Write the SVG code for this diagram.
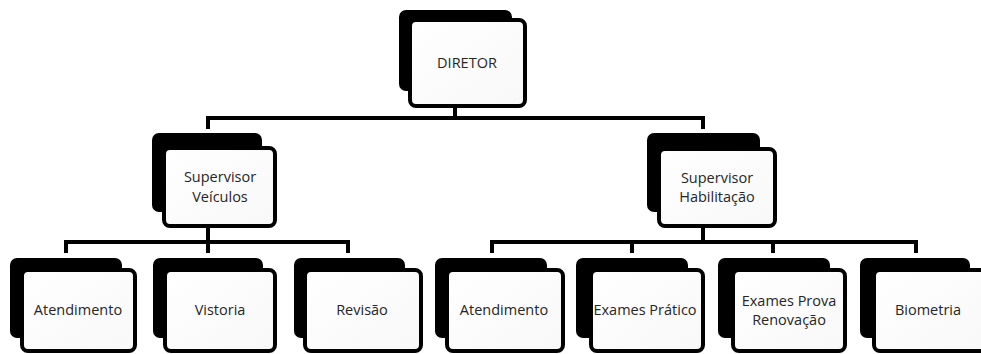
<svg xmlns="http://www.w3.org/2000/svg" width="981" height="354" viewBox="0 0 981 354">
  <defs>
    <linearGradient id="fillg" x1="0" y1="0" x2="1" y2="1">
      <stop offset="0" stop-color="#ffffff"/>
      <stop offset="1" stop-color="#f8f8f8"/>
    </linearGradient>
  </defs>
  <style>
    .shadow { fill: #000; }
    .front { fill: url(#fillg); stroke: #000; stroke-width: 4; }
    .lbl { font-family: "Open Sans", "DejaVu Sans", sans-serif; font-size: 14.5px; fill: #262626; text-anchor: middle; }
    .conn { fill: none; stroke: #000; stroke-width: 4; stroke-linejoin: miter; }
  </style>
  <rect width="981" height="354" fill="#fff"/>

  <g id="connectors">
    <path class="conn" d="M455 106 V118"/>
    <path class="conn" d="M208 129 V118 H703 V129"/>
    <path class="conn" d="M208 226 V253"/>
    <path class="conn" d="M66 253 V242 H348 V253"/>
    <path class="conn" d="M703 226 V242"/>
    <path class="conn" d="M492 253 V242 H916 V253"/>
    <path class="conn" d="M632 242 V253"/>
    <path class="conn" d="M773 242 V253"/>
  </g>

  <g id="diretor">
    <rect class="shadow" x="399" y="10" width="113" height="81" rx="7"/>
    <rect class="front" x="410" y="20" width="115" height="86" rx="6"/>
    <text class="lbl" x="467" y="68">DIRETOR</text>
  </g>

  <g id="sup-veiculos">
    <rect class="shadow" x="152" y="133" width="110" height="79" rx="7"/>
    <rect class="front" x="164" y="148" width="111" height="78" rx="6"/>
    <text class="lbl" x="220" y="182">Supervisor</text>
    <text class="lbl" x="220" y="202">Veículos</text>
  </g>

  <g id="sup-habilitacao">
    <rect class="shadow" x="647" y="133" width="113" height="79" rx="7"/>
    <rect class="front" x="659" y="149" width="116" height="77" rx="6"/>
    <text class="lbl" x="717" y="183">Supervisor</text>
    <text class="lbl" x="717" y="202">Habilitação</text>
  </g>

  <g id="atendimento-v">
    <rect class="shadow" x="10" y="258" width="112" height="80" rx="7"/>
    <rect class="front" x="22" y="270" width="113" height="81" rx="6"/>
    <text class="lbl" x="78" y="315">Atendimento</text>
  </g>

  <g id="vistoria">
    <rect class="shadow" x="153" y="258" width="110" height="80" rx="7"/>
    <rect class="front" x="165" y="270" width="110" height="81" rx="6"/>
    <text class="lbl" x="220" y="315">Vistoria</text>
  </g>

  <g id="revisao">
    <rect class="shadow" x="294" y="258" width="111" height="80" rx="7"/>
    <rect class="front" x="305" y="270" width="116" height="81" rx="6"/>
    <text class="lbl" x="362" y="315">Revisão</text>
  </g>

  <g id="atendimento-h">
    <rect class="shadow" x="435" y="258" width="112" height="80" rx="7"/>
    <rect class="front" x="447" y="270" width="116" height="81" rx="6"/>
    <text class="lbl" x="504" y="315">Atendimento</text>
  </g>

  <g id="exames-pratico">
    <rect class="shadow" x="576" y="258" width="112" height="80" rx="7"/>
    <rect class="front" x="591" y="270" width="112" height="81" rx="6"/>
    <text class="lbl" x="645" y="315">Exames Prático</text>
  </g>

  <g id="exames-prova">
    <rect class="shadow" x="718" y="258" width="112" height="80" rx="7"/>
    <rect class="front" x="733" y="270" width="112" height="81" rx="6"/>
    <text class="lbl" x="789" y="306">Exames Prova</text>
    <text class="lbl" x="789" y="325">Renovação</text>
  </g>

  <g id="biometria">
    <rect class="shadow" x="860" y="258" width="110" height="80" rx="7"/>
    <rect class="front" x="874" y="270" width="116" height="81" rx="6"/>
    <text class="lbl" x="928" y="315">Biometria</text>
  </g>
</svg>
